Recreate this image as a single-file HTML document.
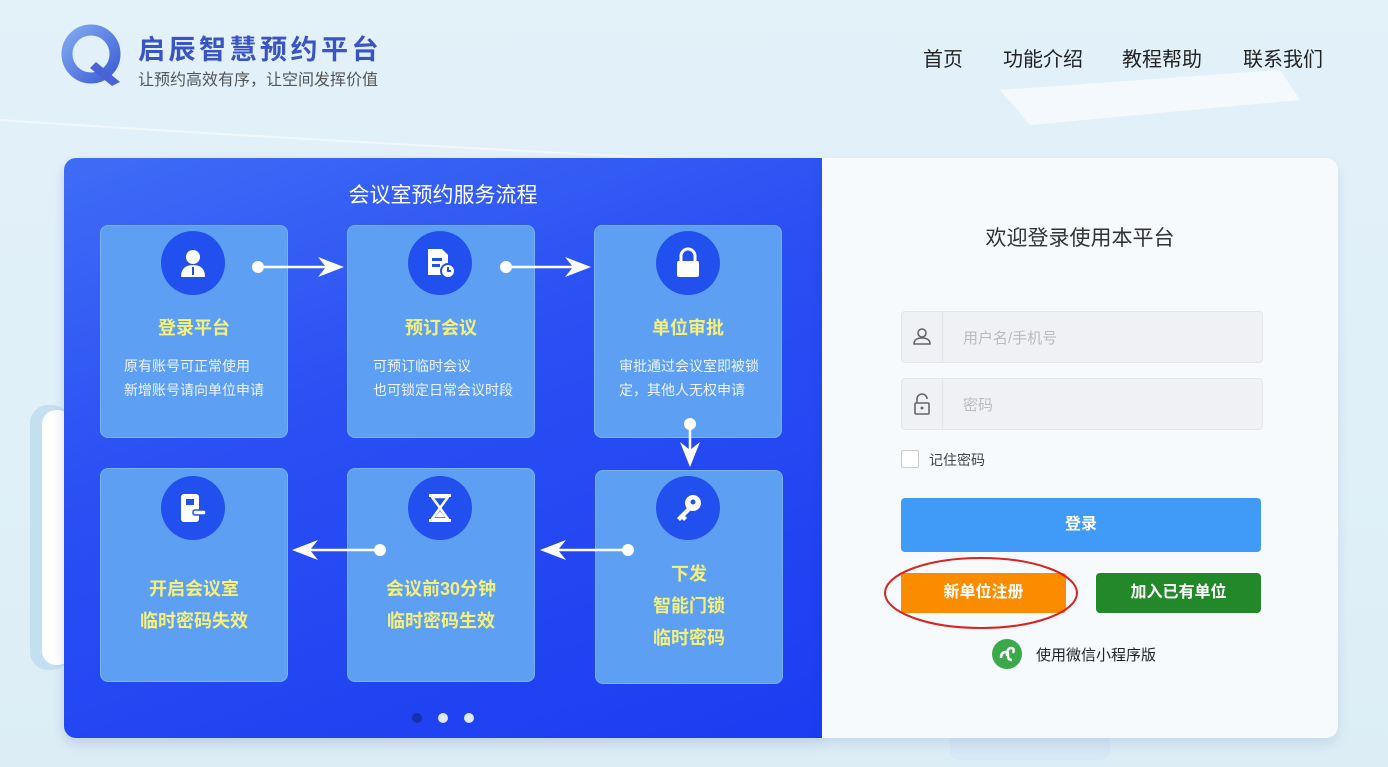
<!DOCTYPE html>
<html><head><meta charset="utf-8"><style>
*{margin:0;padding:0;box-sizing:border-box}
body{width:1388px;height:767px;overflow:hidden;position:relative;font-family:"Liberation Sans","Noto Sans CJK SC",sans-serif;background:linear-gradient(180deg,#e3f1f9 0%,#dff0f8 60%,#dcedf6 100%)}
.a{position:absolute}
.nav{font-size:20px;color:#222;top:43px}
.panel{left:64px;top:158px;width:758px;height:580px;border-radius:12px 0 0 12px;background:linear-gradient(160deg,#3f6cf6 0%,#2a4ff3 40%,#1b3df2 100%);box-shadow:0 6px 12px rgba(0,40,120,.15)}
.right{left:822px;top:158px;width:516px;height:580px;border-radius:0 12px 12px 0;background:#f7fafd;box-shadow:0 6px 12px rgba(0,40,120,.1)}
.card{position:absolute;width:188px;background:#5d9ff3;border-radius:8px;border:1px solid #7ab2f6}
.circ{position:absolute;width:64px;height:64px;border-radius:50%;background:#2150ee;display:flex;align-items:center;justify-content:center}
.t{position:absolute;width:188px;text-align:center;color:#f4f07a;font-weight:bold;font-size:18px}
.d{position:absolute;color:#eef4ff;font-size:14px;line-height:24px}
.inp{position:absolute;left:901px;width:362px;height:52px;background:#f0f1f5;border:1px solid #e3e5ea;border-radius:4px}
.inp .ic{position:absolute;left:0;top:0;width:41px;height:50px;border-right:1px solid #e3e5ea}
.inp span{position:absolute;left:61px;top:15px;color:#bbb;font-size:15px}
.btn{position:absolute;color:#fff;font-weight:bold;font-size:16px;text-align:center;border-radius:4px}
</style></head><body>
<svg class="a" style="left:0;top:0" width="1388" height="767">
<path d="M1000 90 L1280 70 L1300 100 L1030 125Z" fill="#fff" opacity=".6"/>
<path d="M0 120 Q300 140 700 160" stroke="#fff" stroke-width="2" fill="none" opacity=".5"/>
<rect x="30" y="405" width="40" height="265" rx="18" fill="#c4dff0"/>
<rect x="42" y="410" width="30" height="255" rx="14" fill="#fff"/>
<rect x="950" y="690" width="160" height="70" rx="10" fill="#d6e8f6"/>
</svg>
<svg class="a" style="left:60px;top:24px" width="66" height="64">
<defs><linearGradient id="g" x1="0" y1="0" x2="1" y2="1"><stop offset="0" stop-color="#7fa8f0"/><stop offset="1" stop-color="#3e5fd6"/></linearGradient></defs>
<circle cx="31" cy="30" r="24" fill="none" stroke="url(#g)" stroke-width="11"/>
<path d="M36 38 L60 58 L52 62 L30 44Z" fill="#4b62d6"/>
</svg>
<div class="a" style="left:138px;top:28px;font-size:27px;font-weight:bold;color:#3a54c4;letter-spacing:3.5px">启辰智慧预约平台</div>
<div class="a" style="left:138px;top:66px;font-size:16px;color:#555">让预约高效有序，让空间发挥价值</div>
<div class="a nav" style="left:923px">首页</div>
<div class="a nav" style="left:1003px">功能介绍</div>
<div class="a nav" style="left:1122px">教程帮助</div>
<div class="a nav" style="left:1243px">联系我们</div>

<div class="a panel"></div>
<div class="a" style="left:64px;top:179px;width:758px;text-align:center;color:#fff;font-size:21px">会议室预约服务流程</div>

<div class="card" style="left:100px;top:225px;height:213px"></div>
<div class="card" style="left:347px;top:225px;height:213px"></div>
<div class="card" style="left:594px;top:225px;height:213px"></div>
<div class="card" style="left:100px;top:468px;height:214px"></div>
<div class="card" style="left:347px;top:468px;height:214px"></div>
<div class="card" style="left:595px;top:470px;height:214px"></div>

<div class="circ" style="left:161px;top:231px"><svg width="30" height="30"><circle cx="15" cy="9" r="7" fill="#fff"/><path d="M3 29 Q3 17 15 17 Q27 17 27 29Z" fill="#fff"/><rect x="14" y="19" width="2" height="8" fill="#2150ee"/></svg></div>
<div class="circ" style="left:408px;top:231px"><svg width="32" height="32"><path d="M4 2 H18 L24 8 V28 H4Z" fill="#fff"/><rect x="8" y="11" width="10" height="3" fill="#2150ee"/><rect x="8" y="17" width="8" height="3" fill="#2150ee"/><circle cx="24" cy="24" r="7" fill="#fff" stroke="#2150ee" stroke-width="2"/><path d="M24 20v4h3" stroke="#2150ee" stroke-width="2" fill="none"/></svg></div>
<div class="circ" style="left:656px;top:231px"><svg width="30" height="32"><path d="M8 14 V9 A7 7 0 0 1 22 9 V14" stroke="#fff" stroke-width="3" fill="none"/><rect x="4" y="14" width="22" height="16" rx="2" fill="#fff"/></svg></div>
<div class="circ" style="left:161px;top:476px"><svg width="32" height="32"><rect x="4" y="2" width="18" height="28" rx="3" fill="#fff"/><rect x="9" y="7" width="8" height="6" fill="#2150ee"/><rect x="16" y="18" width="13" height="5" rx="2" fill="#fff" stroke="#2150ee" stroke-width="1.5"/></svg></div>
<div class="circ" style="left:408px;top:476px"><svg width="30" height="32"><rect x="4" y="2" width="22" height="3" fill="#fff"/><rect x="4" y="27" width="22" height="3" fill="#fff"/><path d="M7 5 L23 5 L15 16 L23 27 L7 27 L15 16Z" fill="none" stroke="#fff" stroke-width="2.5"/><path d="M10 25 L15 19 L20 25Z" fill="#fff"/></svg></div>
<div class="circ" style="left:656px;top:476px"><svg width="32" height="32"><circle cx="21" cy="11" r="8" fill="#fff"/><circle cx="21" cy="10" r="2.5" fill="#2150ee"/><path d="M16 15 L5 26 L8 29 L10 27 L12 29 L15 26 L13 24 L19 18Z" fill="#fff"/></svg></div>

<div class="t" style="left:100px;top:314px">登录平台</div>
<div class="t" style="left:347px;top:314px">预订会议</div>
<div class="t" style="left:594px;top:314px">单位审批</div>
<div class="d" style="left:124px;top:354px">原有账号可正常使用<br>新增账号请向单位申请</div>
<div class="d" style="left:373px;top:354px">可预订临时会议<br>也可锁定日常会议时段</div>
<div class="d" style="left:619px;top:354px">审批通过会议室即被锁<br>定，其他人无权申请</div>
<div class="t" style="left:100px;top:573px;line-height:32px">开启会议室<br>临时密码失效</div>
<div class="t" style="left:347px;top:573px;line-height:32px">会议前30分钟<br>临时密码生效</div>
<div class="t" style="left:595px;top:558px;line-height:32px">下发<br>智能门锁<br>临时密码</div>

<svg class="a" style="left:0;top:0" width="830" height="767">
<g stroke="#fff" stroke-width="2.5" fill="#fff">
<line x1="258" y1="267" x2="335" y2="267"/><circle cx="258" cy="267" r="6" stroke="none"/><path d="M318 257 L344 267 L318 277 L326 267Z" stroke="none"/>
<line x1="506" y1="267" x2="582" y2="267"/><circle cx="506" cy="267" r="6" stroke="none"/><path d="M565 257 L591 267 L565 277 L573 267Z" stroke="none"/>
<line x1="690" y1="424" x2="690" y2="460"/><circle cx="690" cy="424" r="6" stroke="none"/><path d="M680 442 L690 467 L700 442 L690 450Z" stroke="none"/>
<line x1="628" y1="550" x2="548" y2="550"/><circle cx="628" cy="550" r="6" stroke="none"/><path d="M566 540 L540 550 L566 560 L558 550Z" stroke="none"/>
<line x1="380" y1="550" x2="300" y2="550"/><circle cx="380" cy="550" r="6" stroke="none"/><path d="M318 540 L292 550 L318 560 L310 550Z" stroke="none"/>
</g>
<circle cx="417" cy="718" r="5" fill="#1530b0"/><circle cx="443" cy="718" r="5" fill="#dfe6ff"/><circle cx="469" cy="718" r="5" fill="#dfe6ff"/>
</svg>

<div class="a right"></div>
<div class="a" style="left:822px;top:222px;width:516px;text-align:center;font-size:21px;color:#333">欢迎登录使用本平台</div>
<div class="inp" style="top:311px"><div class="ic"><svg width="41" height="50"><circle cx="20" cy="21" r="4" fill="none" stroke="#666" stroke-width="1.6"/><path d="M12 32 Q12 26 20 26 Q28 26 28 32Z" fill="none" stroke="#666" stroke-width="1.6"/></svg></div><span>用户名/手机号</span></div>
<div class="inp" style="top:378px"><div class="ic"><svg width="41" height="50"><path d="M15 24 V20 A5 5 0 0 1 25 20" fill="none" stroke="#666" stroke-width="1.6"/><rect x="13" y="24" width="14" height="11" rx="1" fill="none" stroke="#666" stroke-width="1.6"/><circle cx="20" cy="29" r="1.5" fill="#666"/></svg></div><span>密码</span></div>
<div class="a" style="left:901px;top:450px;width:18px;height:18px;border:1px solid #ccc;background:#fff;border-radius:2px"></div>
<div class="a" style="left:929px;top:450px;font-size:14px;color:#444">记住密码</div>
<div class="btn" style="left:901px;top:498px;width:360px;height:54px;line-height:54px;background:#3f9bf7">登录</div>
<div class="btn" style="left:901px;top:573px;width:165px;height:40px;line-height:40px;background:#fb8c00;border-radius:3px">新单位注册</div>
<div class="btn" style="left:1096px;top:573px;width:165px;height:40px;line-height:40px;background:#22882a;border-radius:4px">加入已有单位</div>
<svg class="a" style="left:880px;top:552px" width="205" height="82"><ellipse cx="101" cy="41" rx="96" ry="35" fill="none" stroke="#d8231f" stroke-width="2"/></svg>
<svg class="a" style="left:991px;top:638px" width="32" height="32"><circle cx="16" cy="16" r="15" fill="#3aa94a"/><path d="M10 20 Q10 14 15 14 Q17 14 17 16 V18 Q17 22 21 22 M16 18 Q16 10 20 10 Q24 10 22 15" stroke="#fff" stroke-width="2.5" fill="none"/></svg>
<div class="a" style="left:1036px;top:644px;font-size:15px;color:#222">使用微信小程序版</div>
</body></html>
